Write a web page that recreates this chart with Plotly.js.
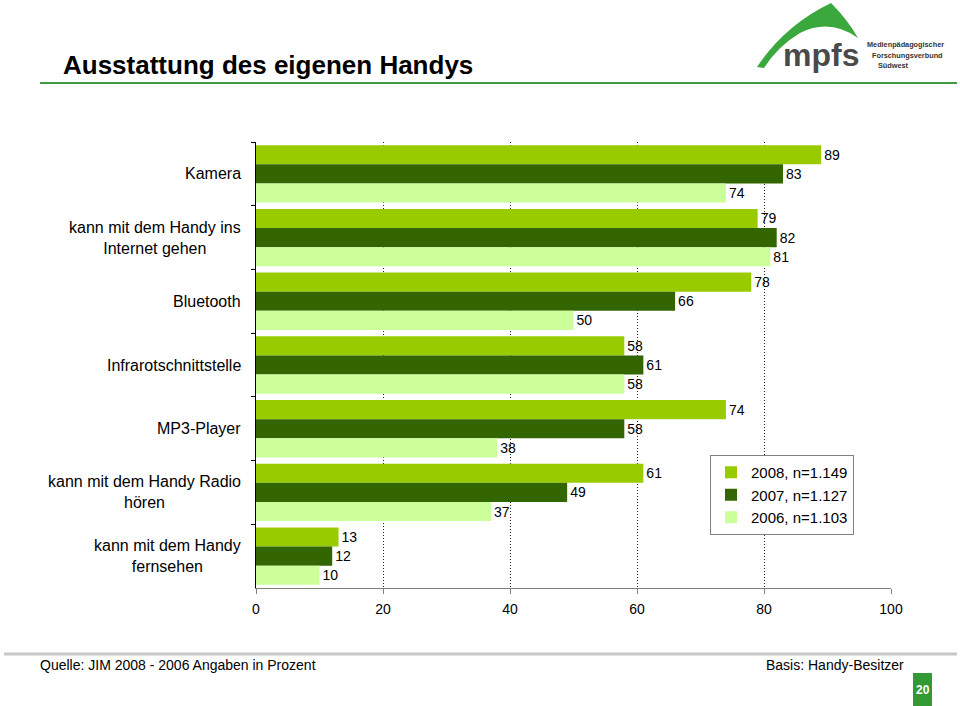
<!DOCTYPE html>
<html>
<head>
<meta charset="utf-8">
<script src="https://cdn.plot.ly/plotly-3.0.1.min.js"></script>
<style>
html,body{margin:0;padding:0;background:#fff;}
#chart{width:960px;height:706px;}
</style>
</head>
<body>
<div id="chart"></div>
<script>
// ---- data ----
const categories = [
  "Kamera",
  "kann mit dem Handy ins<br>Internet gehen",
  "Bluetooth",
  "Infrarotschnittstelle",
  "MP3-Player",
  "kann mit dem Handy Radio<br>hören",
  "kann mit dem Handy<br>fernsehen"
];
const values2008 = [89, 79, 78, 58, 74, 61, 13];
const values2007 = [83, 82, 66, 61, 58, 49, 12];
const values2006 = [74, 81, 50, 58, 38, 37, 10];
const seriesNames = ["2008, n=1.149", "2007, n=1.127", "2006, n=1.103"];
const xTicks = [0, 20, 40, 60, 80, 100];

// ---- layout helpers (pixel -> paper) ----
const L = 256, R = 891, T = 142, B = 588;
const W = R - L, H = B - T;
const px = x => (x - L) / W;
const py = y => (B - y) / H;
const P = (x, y) => px(x).toFixed(5) + "," + py(y).toFixed(5);

const FONT = "Liberation Sans, Arial, sans-serif";
const colors = ["#99CC00", "#336600", "#CCFF99"];
const seriesValues = [values2008, values2007, values2006];

const traces = seriesValues.map((vals, i) => ({
  type: "bar",
  orientation: "h",
  name: seriesNames[i],
  y: categories,
  x: vals,
  marker: {color: colors[i], line: {width: 0}},
  text: vals.map(String),
  textposition: "outside",
  textfont: {family: FONT, size: 14, color: "#000"},
  constraintext: "none",
  cliponaxis: false,
  hoverinfo: "skip"
}));

const annotations = categories.map(c => ({
  xref: "paper", yref: "y",
  x: 0, y: c, xshift: -13,
  xanchor: "right", yanchor: "middle",
  align: "center",
  text: c,
  showarrow: false,
  font: {family: FONT, size: 16, color: "#000"}
}));

annotations.push(
  {xref: "paper", yref: "paper", x: px(38), y: py(665), xanchor: "left", yanchor: "middle",
   text: "Quelle: JIM 2008 - 2006 Angaben in Prozent", showarrow: false,
   font: {family: FONT, size: 14, color: "#000"}},
  {xref: "paper", yref: "paper", x: px(906), y: py(665), xanchor: "right", yanchor: "middle",
   text: "Basis: Handy-Besitzer", showarrow: false,
   font: {family: FONT, size: 14, color: "#000"}},
  {xref: "paper", yref: "paper", x: px(922.5), y: py(690), xanchor: "center", yanchor: "middle",
   text: "<b>20</b>", showarrow: false,
   font: {family: FONT, size: 12, color: "#fff"}},
  {xref: "paper", yref: "paper", x: px(781), y: py(55), xanchor: "left", yanchor: "middle",
   text: "<b>mpfs</b>", showarrow: false,
   font: {family: FONT, size: 32, color: "#4a4a4a"}},
  {xref: "paper", yref: "paper", x: px(865), y: py(45), xanchor: "left", yanchor: "middle",
   text: "<b>Medienpädagogischer</b>", showarrow: false,
   font: {family: FONT, size: 7.3, color: "#333"}},
  {xref: "paper", yref: "paper", x: px(870), y: py(55), xanchor: "left", yanchor: "middle",
   text: "<b>Forschungsverbund</b>", showarrow: false,
   font: {family: FONT, size: 7.3, color: "#333"}},
  {xref: "paper", yref: "paper", x: px(876), y: py(65), xanchor: "left", yanchor: "middle",
   text: "<b>Südwest</b>", showarrow: false,
   font: {family: FONT, size: 7.3, color: "#333"}}
);

const shapes = [
  {type: "line", xref: "paper", yref: "paper", x0: px(40), x1: px(957), y0: py(83), y1: py(83),
   line: {color: "#3f9b3f", width: 2}},
  {type: "line", xref: "paper", yref: "paper", x0: px(4), x1: px(957), y0: py(654), y1: py(654),
   line: {color: "#c8c8c8", width: 3}},
  {type: "rect", xref: "paper", yref: "paper", x0: px(913), x1: px(932), y0: py(706), y1: py(673),
   fillcolor: "#339933", line: {width: 0}},
  {type: "path", xref: "paper", yref: "paper",
   path: "M " + P(757, 67) + " Q " + P(785, 25) + " " + P(831, 3) +
         " Q " + P(848, 20) + " " + P(858, 38) +
         " Q " + P(830, 18) + " " + P(800, 33) +
         " Q " + P(778, 46) + " " + P(764, 68) + " Z",
   fillcolor: "#3aa83c", line: {width: 0}}
];

const layout = {
  width: 960, height: 706,
  margin: {l: L, r: 960 - R, t: T, b: 706 - B, pad: 0},
  paper_bgcolor: "#fff", plot_bgcolor: "#fff",
  font: {family: FONT, color: "#000"},
  title: {
    text: "<b>Ausstattung des eigenen Handys</b>",
    xref: "container", yref: "container",
    x: 63 / 960, xanchor: "left",
    y: 1 - 65 / 706, yanchor: "middle",
    font: {family: FONT, size: 26, color: "#000"}
  },
  barmode: "group",
  bargap: 0.1,
  bargroupgap: 0,
  showlegend: true,
  legend: {
    x: px(710), y: py(455), xanchor: "left", yanchor: "top",
    xref: "paper", yref: "paper",
    bgcolor: "#fff", bordercolor: "#808080", borderwidth: 1,
    font: {family: FONT, size: 15, color: "#000"},
    traceorder: "normal",
    itemwidth: 30
  },
  xaxis: {
    range: [0, 100],
    tickvals: xTicks,
    ticktext: xTicks.map(String),
    showgrid: true, gridcolor: "#222", gridwidth: 1, griddash: "1px,2px",
    zeroline: false,
    showline: true, linecolor: "#808080", linewidth: 1,
    ticks: "outside", ticklen: 5, tickcolor: "#808080",
    ticklabelstandoff: 3,
    tickfont: {family: FONT, size: 14, color: "#000"},
    fixedrange: true
  },
  yaxis: {
    type: "category",
    autorange: "reversed",
    showgrid: false, zeroline: false,
    showline: true, linecolor: "#000", linewidth: 1,
    ticks: "outside", tickson: "boundaries", ticklen: 4, tickcolor: "#000",
    showticklabels: false,
    fixedrange: true
  },
  annotations: annotations,
  shapes: shapes
};

Plotly.newPlot("chart", traces, layout, {displayModeBar: false, staticPlot: true});
</script>
</body>
</html>
